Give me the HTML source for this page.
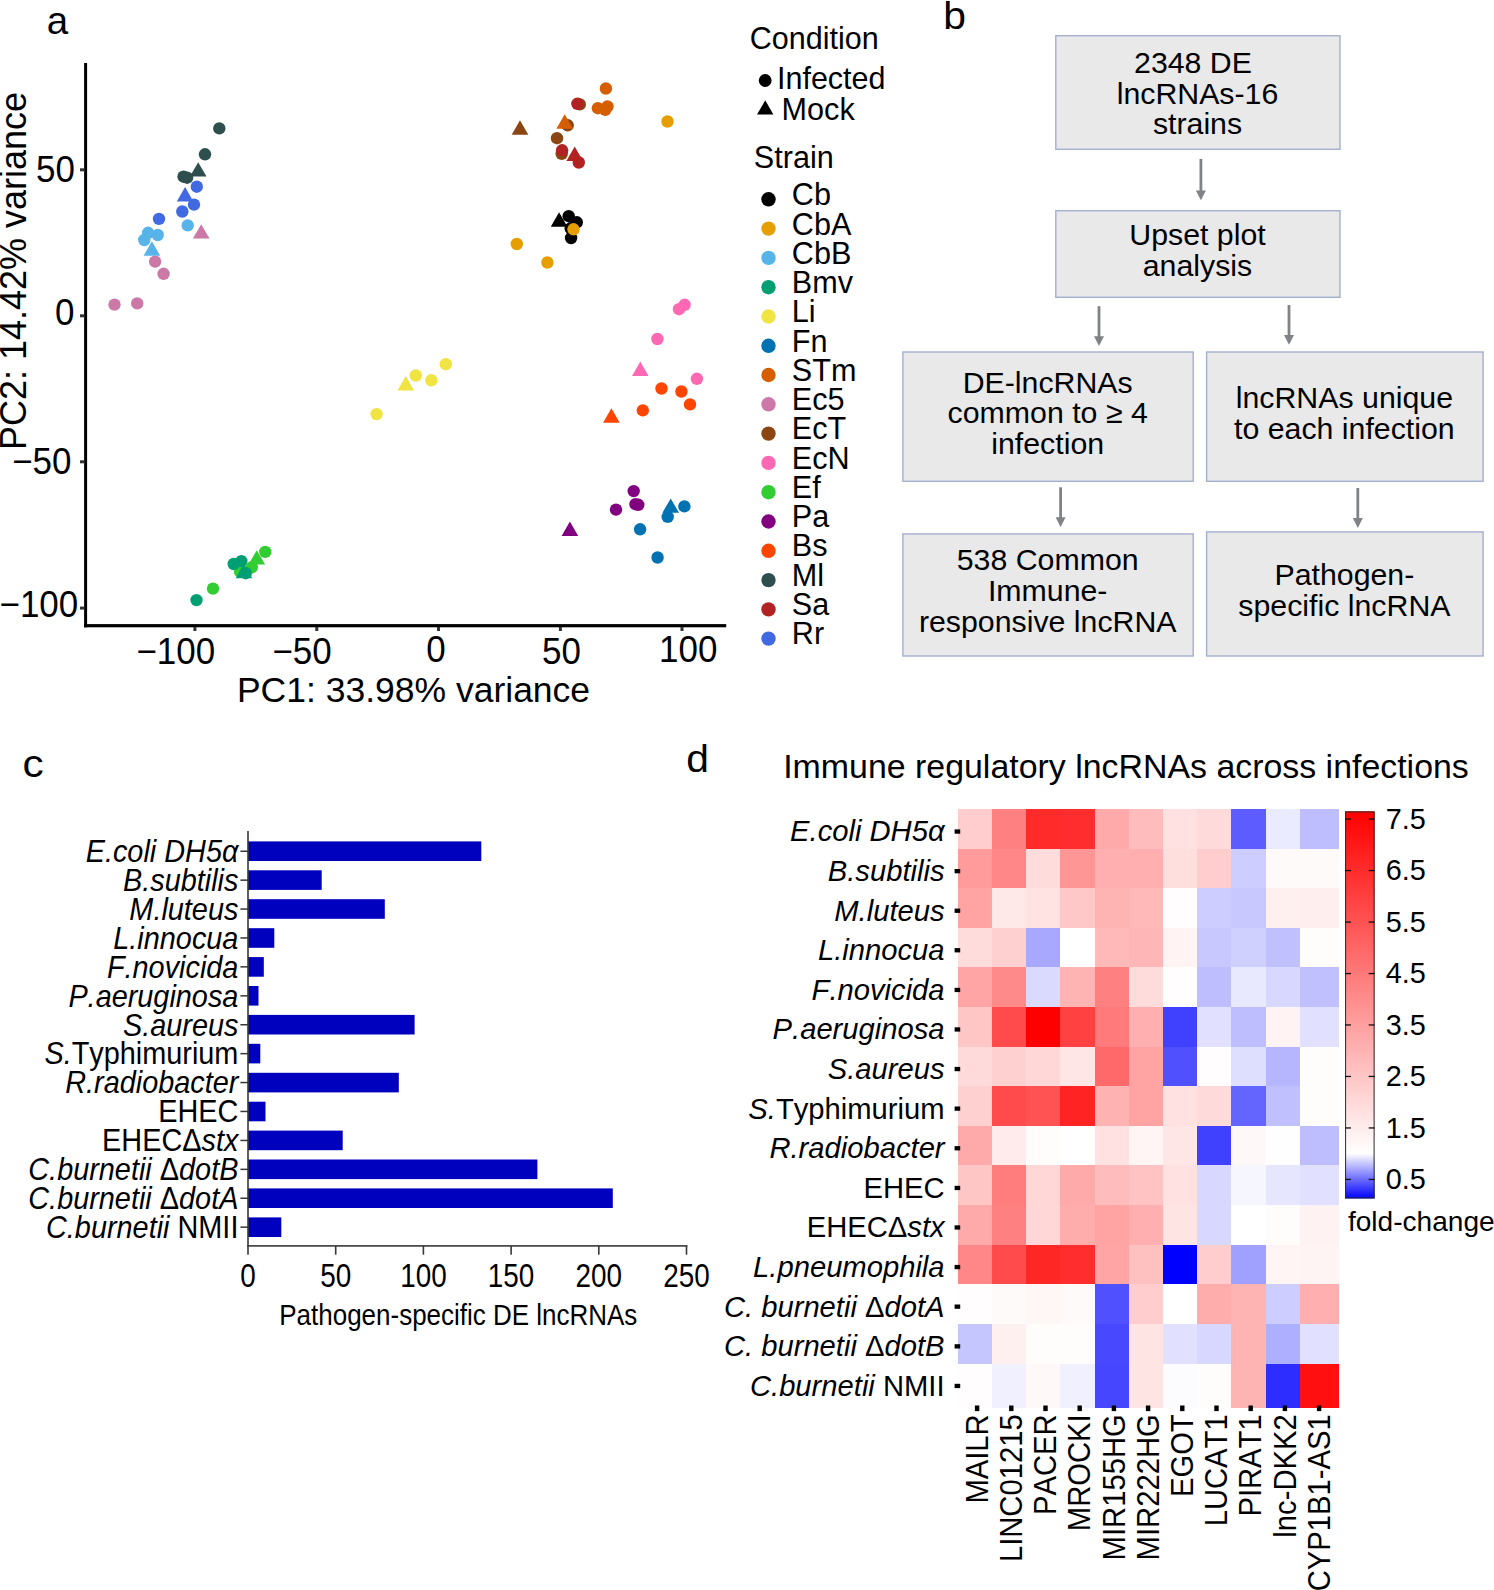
<!DOCTYPE html>
<html lang="en">
<head>
<meta charset="utf-8">
<title>Figure: lncRNA responses across bacterial infections</title>
<style>
html,body{margin:0;padding:0;background:#fff;}
body{width:1494px;height:1590px;overflow:hidden;}
svg{display:block;}
svg text{font-family:"Liberation Sans",Arial,Helvetica,sans-serif;fill:#000;font-kerning:none;}
</style>
</head>
<body>
<svg width="1494" height="1590" viewBox="0 0 1494 1590">
<rect width="1494" height="1590" fill="#fff"/>
<g id="panel-a">
<text x="46.8" y="34.3" font-size="38.5">a</text>
<g id="pts">
<circle cx="114.5" cy="304.6" r="6.2" fill="#CC79A7"/>
<circle cx="137.2" cy="303.4" r="6.2" fill="#CC79A7"/>
<circle cx="155.1" cy="261.6" r="6.2" fill="#CC79A7"/>
<circle cx="163.6" cy="273.8" r="6.2" fill="#CC79A7"/>
<path d="M201.2 224.2 L209.5 238.6 L192.9 238.6 Z" fill="#CC79A7"/>
<circle cx="148.1" cy="232.8" r="6.2" fill="#56B4E9"/>
<circle cx="157.7" cy="235.0" r="6.2" fill="#56B4E9"/>
<circle cx="144.3" cy="240.0" r="6.2" fill="#56B4E9"/>
<circle cx="187.7" cy="225.4" r="6.2" fill="#56B4E9"/>
<path d="M151.9 241.3 L160.2 255.7 L143.6 255.7 Z" fill="#56B4E9"/>
<circle cx="219.3" cy="128.4" r="6.2" fill="#2F4F4F"/>
<circle cx="205.0" cy="154.3" r="6.2" fill="#2F4F4F"/>
<circle cx="183.5" cy="176.7" r="6.2" fill="#2F4F4F"/>
<circle cx="187.1" cy="177.7" r="6.2" fill="#2F4F4F"/>
<path d="M198.2 162.2 L206.5 176.6 L189.9 176.6 Z" fill="#2F4F4F"/>
<circle cx="196.8" cy="186.7" r="6.2" fill="#4169E1"/>
<circle cx="194.0" cy="204.6" r="6.2" fill="#4169E1"/>
<circle cx="182.3" cy="211.5" r="6.2" fill="#4169E1"/>
<circle cx="159.0" cy="218.9" r="6.2" fill="#4169E1"/>
<path d="M185.1 187.0 L193.4 201.4 L176.8 201.4 Z" fill="#4169E1"/>
<circle cx="265.3" cy="551.9" r="6.2" fill="#32CD32"/>
<circle cx="251.8" cy="567.3" r="6.2" fill="#32CD32"/>
<circle cx="240.1" cy="571.7" r="6.2" fill="#32CD32"/>
<circle cx="213.0" cy="588.6" r="6.2" fill="#32CD32"/>
<path d="M256.8 550.2 L265.1 564.6 L248.5 564.6 Z" fill="#32CD32"/>
<circle cx="241.4" cy="561.1" r="6.2" fill="#009E73"/>
<circle cx="233.7" cy="564.0" r="6.2" fill="#009E73"/>
<circle cx="245.7" cy="573.2" r="6.2" fill="#009E73"/>
<circle cx="196.5" cy="600.1" r="6.2" fill="#009E73"/>
<path d="M244.0 563.8 L252.3 578.2 L235.7 578.2 Z" fill="#009E73"/>
<circle cx="445.8" cy="364.2" r="6.2" fill="#F0E442"/>
<circle cx="415.8" cy="375.5" r="6.2" fill="#F0E442"/>
<circle cx="431.3" cy="380.3" r="6.2" fill="#F0E442"/>
<circle cx="376.6" cy="414.1" r="6.2" fill="#F0E442"/>
<path d="M405.8 376.1 L414.1 390.5 L397.5 390.5 Z" fill="#F0E442"/>
<circle cx="579.8" cy="104.4" r="6.2" fill="#8B4513"/>
<circle cx="567.7" cy="125.3" r="6.2" fill="#8B4513"/>
<circle cx="557.0" cy="138.2" r="6.2" fill="#8B4513"/>
<circle cx="561.7" cy="153.9" r="6.2" fill="#8B4513"/>
<path d="M520.0 120.3 L528.3 134.7 L511.7 134.7 Z" fill="#8B4513"/>
<circle cx="605.9" cy="88.5" r="6.2" fill="#D55E00"/>
<circle cx="597.9" cy="108.2" r="6.2" fill="#D55E00"/>
<circle cx="607.5" cy="106.4" r="6.2" fill="#D55E00"/>
<circle cx="605.3" cy="109.8" r="6.2" fill="#D55E00"/>
<path d="M564.7 114.3 L573.0 128.7 L556.4 128.7 Z" fill="#D55E00"/>
<circle cx="577.4" cy="103.8" r="6.2" fill="#B22222"/>
<circle cx="562.1" cy="150.3" r="6.2" fill="#B22222"/>
<circle cx="578.8" cy="162.5" r="6.2" fill="#B22222"/>
<path d="M574.7 146.5 L583.0 160.9 L566.4 160.9 Z" fill="#B22222"/>
<circle cx="568.7" cy="216.2" r="6.2" fill="#000000"/>
<circle cx="576.8" cy="222.3" r="6.2" fill="#000000"/>
<circle cx="571.1" cy="238.0" r="6.2" fill="#000000"/>
<circle cx="570.7" cy="228.3" r="6.2" fill="#000000"/>
<path d="M559.1 212.3 L567.4 226.7 L550.8 226.7 Z" fill="#000000"/>
<circle cx="573.5" cy="229.3" r="6.2" fill="#E69F00"/>
<circle cx="516.8" cy="244.0" r="6.2" fill="#E69F00"/>
<circle cx="547.4" cy="262.5" r="6.2" fill="#E69F00"/>
<circle cx="667.5" cy="121.5" r="6.2" fill="#E69F00"/>
<circle cx="684.6" cy="304.8" r="6.2" fill="#FF69B4"/>
<circle cx="679.0" cy="309.2" r="6.2" fill="#FF69B4"/>
<circle cx="657.4" cy="339.0" r="6.2" fill="#FF69B4"/>
<circle cx="696.9" cy="378.8" r="6.2" fill="#FF69B4"/>
<path d="M640.3 361.6 L648.6 376.0 L632.0 376.0 Z" fill="#FF69B4"/>
<circle cx="661.5" cy="388.5" r="6.2" fill="#FF4500"/>
<circle cx="681.4" cy="391.5" r="6.2" fill="#FF4500"/>
<circle cx="690.0" cy="404.4" r="6.2" fill="#FF4500"/>
<circle cx="642.8" cy="410.4" r="6.2" fill="#FF4500"/>
<path d="M611.4 408.3 L619.7 422.7 L603.1 422.7 Z" fill="#FF4500"/>
<circle cx="633.7" cy="491.1" r="6.2" fill="#800080"/>
<circle cx="635.5" cy="504.2" r="6.2" fill="#800080"/>
<circle cx="638.3" cy="504.8" r="6.2" fill="#800080"/>
<circle cx="616.0" cy="509.6" r="6.2" fill="#800080"/>
<path d="M569.9 521.5 L578.2 535.9 L561.6 535.9 Z" fill="#800080"/>
<circle cx="684.4" cy="506.4" r="6.2" fill="#0072B2"/>
<circle cx="667.7" cy="516.9" r="6.2" fill="#0072B2"/>
<circle cx="640.1" cy="529.3" r="6.2" fill="#0072B2"/>
<circle cx="657.6" cy="557.5" r="6.2" fill="#0072B2"/>
<path d="M670.7 498.4 L679.0 512.8 L662.4 512.8 Z" fill="#0072B2"/>
</g>
<rect x="84.1" y="63" width="3" height="564.3" fill="#000"/>
<rect x="84.1" y="624.1" width="642.1" height="3.2" fill="#000"/>
<rect x="80.0" y="168.3" width="4.5" height="3.0" fill="#333"/>
<text transform="translate(36.0 182.4) scale(0.945 1)" font-size="37.0">50</text>
<rect x="80.0" y="314.3" width="4.5" height="3.0" fill="#333"/>
<text transform="translate(55.1 325.4) scale(0.945 1)" font-size="37.0">0</text>
<rect x="80.0" y="460.3" width="4.5" height="3.0" fill="#333"/>
<text transform="translate(12.2 474.4) scale(0.945 1)" font-size="37.0">−50</text>
<rect x="80.0" y="606.6" width="4.5" height="3.0" fill="#333"/>
<text transform="translate(-0.5 617.4) scale(0.945 1)" font-size="37.0">−100</text>
<rect x="193.4" y="627" width="3.0" height="4.0" fill="#333"/>
<text transform="translate(136.4 664.4) scale(0.945 1)" font-size="37.0">−100</text>
<rect x="315.3" y="627" width="3.0" height="4.0" fill="#333"/>
<text transform="translate(272.4 664.4) scale(0.945 1)" font-size="37.0">−50</text>
<rect x="437.0" y="627" width="3.0" height="4.0" fill="#333"/>
<text transform="translate(426.2 662.4) scale(0.945 1)" font-size="37.0">0</text>
<rect x="558.9" y="627" width="3.0" height="4.0" fill="#333"/>
<text transform="translate(542.0 664.4) scale(0.945 1)" font-size="37.0">50</text>
<rect x="680.5" y="627" width="3.0" height="4.0" fill="#333"/>
<text transform="translate(659.0 662.4) scale(0.945 1)" font-size="37.0">100</text>
<text x="413.5" y="702" font-size="35.5" text-anchor="middle">PC1: 33.98% variance</text>
<text transform="translate(26.0 271.0) rotate(-90)" font-size="36" text-anchor="middle">PC2: 14.42% variance</text>
<text x="749.8" y="49.0" font-size="30.5">Condition</text>
<circle cx="765.2" cy="80.5" r="6.4" fill="#000"/>
<text x="777.0" y="89.3" font-size="30.5">Infected</text>
<path d="M765.2 100.3 L773.4 114.6 L757.0 114.6 Z" fill="#000"/>
<text x="781.6" y="119.5" font-size="30.6">Mock</text>
<text x="753.8" y="168.0" font-size="30.6">Strain</text>
<circle cx="768.5" cy="199.3" r="7.2" fill="#000000"/>
<text x="791.8" y="205.3" font-size="30.6">Cb</text>
<circle cx="768.5" cy="228.6" r="7.2" fill="#E69F00"/>
<text x="791.8" y="234.6" font-size="30.6">CbA</text>
<circle cx="768.5" cy="257.9" r="7.2" fill="#56B4E9"/>
<text x="791.8" y="263.8" font-size="30.6">CbB</text>
<circle cx="768.5" cy="287.2" r="7.2" fill="#009E73"/>
<text x="791.8" y="293.1" font-size="30.6">Bmv</text>
<circle cx="768.5" cy="316.5" r="7.2" fill="#F0E442"/>
<text x="791.8" y="322.3" font-size="30.6">Li</text>
<circle cx="768.5" cy="345.8" r="7.2" fill="#0072B2"/>
<text x="791.8" y="351.6" font-size="30.6">Fn</text>
<circle cx="768.5" cy="375.0" r="7.2" fill="#D55E00"/>
<text x="791.8" y="380.8" font-size="30.6">STm</text>
<circle cx="768.5" cy="404.3" r="7.2" fill="#CC79A7"/>
<text x="791.8" y="410.1" font-size="30.6">Ec5</text>
<circle cx="768.5" cy="433.6" r="7.2" fill="#8B4513"/>
<text x="791.8" y="439.3" font-size="30.6">EcT</text>
<circle cx="768.5" cy="462.9" r="7.2" fill="#FF69B4"/>
<text x="791.8" y="468.6" font-size="30.6">EcN</text>
<circle cx="768.5" cy="492.2" r="7.2" fill="#32CD32"/>
<text x="791.8" y="497.8" font-size="30.6">Ef</text>
<circle cx="768.5" cy="521.5" r="7.2" fill="#800080"/>
<text x="791.8" y="527.0" font-size="30.6">Pa</text>
<circle cx="768.5" cy="550.8" r="7.2" fill="#FF4500"/>
<text x="791.8" y="556.3" font-size="30.6">Bs</text>
<circle cx="768.5" cy="580.1" r="7.2" fill="#2F4F4F"/>
<text x="791.8" y="585.5" font-size="30.6">Ml</text>
<circle cx="768.5" cy="609.4" r="7.2" fill="#B22222"/>
<text x="791.8" y="614.8" font-size="30.6">Sa</text>
<circle cx="768.5" cy="638.6" r="7.2" fill="#4169E1"/>
<text x="791.8" y="644.0" font-size="30.6">Rr</text>
</g>
<g id="panel-b">
<text transform="translate(943.3 28.6) scale(1.06 1)" font-size="38.5">b</text>
<rect x="1055.8" y="35.7" width="284.2" height="113.6" fill="#E9E9E9" stroke="#A3AFCC" stroke-width="1.4"/>
<text x="1193.0" y="72.8" font-size="30.3" text-anchor="middle">2348 DE</text>
<text x="1197.5" y="104.0" font-size="30.3" text-anchor="middle">lncRNAs-16</text>
<text x="1197.5" y="134.4" font-size="30.3" text-anchor="middle">strains</text>
<path d="M1200.9 158.9 V192.7" stroke="#808285" stroke-width="2.8" fill="none"/>
<path d="M1200.9 200.3 L1195.9 190.5 L1205.9 190.5 Z" fill="#808285"/>
<rect x="1055.8" y="210.7" width="284.2" height="86.6" fill="#E9E9E9" stroke="#A3AFCC" stroke-width="1.4"/>
<text x="1197.5" y="244.6" font-size="30.3" text-anchor="middle">Upset plot</text>
<text x="1197.5" y="275.7" font-size="30.3" text-anchor="middle">analysis</text>
<path d="M1099.0 306.2 V338.4" stroke="#808285" stroke-width="2.8" fill="none"/>
<path d="M1099.0 346.0 L1094.0 336.2 L1104.0 336.2 Z" fill="#808285"/>
<path d="M1289.0 305.0 V337.2" stroke="#808285" stroke-width="2.8" fill="none"/>
<path d="M1289.0 344.8 L1284.0 335.0 L1294.0 335.0 Z" fill="#808285"/>
<rect x="902.9" y="352.0" width="290.3" height="129.3" fill="#E9E9E9" stroke="#A3AFCC" stroke-width="1.4"/>
<text x="1047.7" y="392.7" font-size="30.3" text-anchor="middle">DE-lncRNAs</text>
<text x="1047.7" y="423.4" font-size="30.3" text-anchor="middle">common to ≥ 4</text>
<text x="1047.7" y="454.1" font-size="30.3" text-anchor="middle">infection</text>
<rect x="1206.6" y="352.0" width="276.5" height="129.3" fill="#E9E9E9" stroke="#A3AFCC" stroke-width="1.4"/>
<text x="1344.4" y="408.0" font-size="30.3" text-anchor="middle">lncRNAs unique</text>
<text x="1344.4" y="438.8" font-size="30.3" text-anchor="middle">to each infection</text>
<path d="M1060.6 487.3 V519.5" stroke="#808285" stroke-width="2.8" fill="none"/>
<path d="M1060.6 527.1 L1055.6 517.3 L1065.6 517.3 Z" fill="#808285"/>
<path d="M1357.8 488.0 V520.3" stroke="#808285" stroke-width="2.8" fill="none"/>
<path d="M1357.8 527.9 L1352.8 518.1 L1362.8 518.1 Z" fill="#808285"/>
<rect x="902.9" y="533.9" width="290.3" height="122.1" fill="#E9E9E9" stroke="#A3AFCC" stroke-width="1.4"/>
<text x="1047.7" y="570.2" font-size="30.3" text-anchor="middle">538 Common</text>
<text x="1047.7" y="601.3" font-size="30.3" text-anchor="middle">Immune-</text>
<text x="1047.7" y="632.0" font-size="30.3" text-anchor="middle">responsive lncRNA</text>
<rect x="1206.6" y="531.9" width="276.5" height="124.1" fill="#E9E9E9" stroke="#A3AFCC" stroke-width="1.4"/>
<text x="1344.4" y="585.1" font-size="30.3" text-anchor="middle">Pathogen-</text>
<text x="1344.4" y="615.9" font-size="30.3" text-anchor="middle">specific lncRNA</text>
</g>
<g id="panel-c">
<text transform="translate(22.4 777.1) scale(1.07 1)" font-size="39.5">c</text>
<rect x="248.0" y="841.4" width="233.3" height="19.6" fill="#0000BF"/>
<rect x="240.4" y="850.5" width="7.6" height="1.5" fill="#383838"/>
<text transform="translate(238.4 862.0) scale(0.931 1)" font-size="31" text-anchor="end"><tspan font-style="italic">E.coli DH5α</tspan></text>
<rect x="248.0" y="870.3" width="73.7" height="19.6" fill="#0000BF"/>
<rect x="240.4" y="879.4" width="7.6" height="1.5" fill="#383838"/>
<text transform="translate(238.4 890.9) scale(0.931 1)" font-size="31" text-anchor="end"><tspan font-style="italic">B.subtilis</tspan></text>
<rect x="248.0" y="899.2" width="136.8" height="19.6" fill="#0000BF"/>
<rect x="240.4" y="908.3" width="7.6" height="1.5" fill="#383838"/>
<text transform="translate(238.4 919.8) scale(0.931 1)" font-size="31" text-anchor="end"><tspan font-style="italic">M.luteus</tspan></text>
<rect x="248.0" y="928.2" width="26.3" height="19.6" fill="#0000BF"/>
<rect x="240.4" y="937.2" width="7.6" height="1.5" fill="#383838"/>
<text transform="translate(238.4 948.8) scale(0.931 1)" font-size="31" text-anchor="end"><tspan font-style="italic">L.innocua</tspan></text>
<rect x="248.0" y="957.1" width="15.8" height="19.6" fill="#0000BF"/>
<rect x="240.4" y="966.1" width="7.6" height="1.5" fill="#383838"/>
<text transform="translate(238.4 977.7) scale(0.931 1)" font-size="31" text-anchor="end"><tspan font-style="italic">F.novicida</tspan></text>
<rect x="248.0" y="986.0" width="10.5" height="19.6" fill="#0000BF"/>
<rect x="240.4" y="995.1" width="7.6" height="1.5" fill="#383838"/>
<text transform="translate(238.4 1006.6) scale(0.931 1)" font-size="31" text-anchor="end"><tspan font-style="italic">P.aeruginosa</tspan></text>
<rect x="248.0" y="1014.9" width="166.6" height="19.6" fill="#0000BF"/>
<rect x="240.4" y="1024.0" width="7.6" height="1.5" fill="#383838"/>
<text transform="translate(238.4 1035.5) scale(0.931 1)" font-size="31" text-anchor="end"><tspan font-style="italic">S.aureus</tspan></text>
<rect x="248.0" y="1043.8" width="12.3" height="19.6" fill="#0000BF"/>
<rect x="240.4" y="1052.9" width="7.6" height="1.5" fill="#383838"/>
<text transform="translate(238.4 1064.4) scale(0.931 1)" font-size="31" text-anchor="end"><tspan font-style="italic">S.</tspan>Typhimurium</text>
<rect x="248.0" y="1072.8" width="150.8" height="19.6" fill="#0000BF"/>
<rect x="240.4" y="1081.8" width="7.6" height="1.5" fill="#383838"/>
<text transform="translate(238.4 1093.4) scale(0.931 1)" font-size="31" text-anchor="end"><tspan font-style="italic">R.radiobacter</tspan></text>
<rect x="248.0" y="1101.7" width="17.5" height="19.6" fill="#0000BF"/>
<rect x="240.4" y="1110.7" width="7.6" height="1.5" fill="#383838"/>
<text transform="translate(238.4 1122.3) scale(0.931 1)" font-size="31" text-anchor="end">EHEC</text>
<rect x="248.0" y="1130.6" width="94.7" height="19.6" fill="#0000BF"/>
<rect x="240.4" y="1139.7" width="7.6" height="1.5" fill="#383838"/>
<text transform="translate(238.4 1151.2) scale(0.931 1)" font-size="31" text-anchor="end">EHECΔ<tspan font-style="italic">stx</tspan></text>
<rect x="248.0" y="1159.5" width="289.4" height="19.6" fill="#0000BF"/>
<rect x="240.4" y="1168.6" width="7.6" height="1.5" fill="#383838"/>
<text transform="translate(238.4 1180.1) scale(0.931 1)" font-size="31" text-anchor="end"><tspan font-style="italic">C.burnetii </tspan>Δ<tspan font-style="italic">dotB</tspan></text>
<rect x="248.0" y="1188.4" width="364.8" height="19.6" fill="#0000BF"/>
<rect x="240.4" y="1197.5" width="7.6" height="1.5" fill="#383838"/>
<text transform="translate(238.4 1209.0) scale(0.931 1)" font-size="31" text-anchor="end"><tspan font-style="italic">C.burnetii </tspan>Δ<tspan font-style="italic">dotA</tspan></text>
<rect x="248.0" y="1217.4" width="33.3" height="19.6" fill="#0000BF"/>
<rect x="240.4" y="1226.4" width="7.6" height="1.5" fill="#383838"/>
<text transform="translate(238.4 1238.0) scale(0.931 1)" font-size="31" text-anchor="end"><tspan font-style="italic">C.burnetii</tspan> NMII</text>
<rect x="247.2" y="831" width="1.6" height="415.7" fill="#383838"/>
<rect x="247.2" y="1245.1" width="440.3" height="1.6" fill="#383838"/>
<rect x="247.2" y="1246" width="1.6" height="8.7" fill="#383838"/>
<text transform="translate(248.0 1286.5) scale(0.82 1)" font-size="34" text-anchor="middle">0</text>
<rect x="334.9" y="1246" width="1.6" height="8.7" fill="#383838"/>
<text transform="translate(335.7 1286.5) scale(0.82 1)" font-size="34" text-anchor="middle">50</text>
<rect x="422.6" y="1246" width="1.6" height="8.7" fill="#383838"/>
<text transform="translate(423.4 1286.5) scale(0.82 1)" font-size="34" text-anchor="middle">100</text>
<rect x="510.3" y="1246" width="1.6" height="8.7" fill="#383838"/>
<text transform="translate(511.1 1286.5) scale(0.82 1)" font-size="34" text-anchor="middle">150</text>
<rect x="598.0" y="1246" width="1.6" height="8.7" fill="#383838"/>
<text transform="translate(598.8 1286.5) scale(0.82 1)" font-size="34" text-anchor="middle">200</text>
<rect x="685.7" y="1246" width="1.6" height="8.7" fill="#383838"/>
<text transform="translate(686.5 1286.5) scale(0.82 1)" font-size="34" text-anchor="middle">250</text>
<text transform="translate(458.3 1324.8) scale(0.89 1)" font-size="29.2" text-anchor="middle">Pathogen-specific DE lncRNAs</text>
</g>
<g id="panel-d">
<text transform="translate(686.3 772.3) scale(1.06 1)" font-size="38.5">d</text>
<text x="783.2" y="777.8" font-size="33.9">Immune regulatory lncRNAs across infections</text>
<g shape-rendering="crispEdges">
<rect x="957.80" y="808.90" width="34.70" height="40.12" fill="#FFCDCD"/>
<rect x="992.00" y="808.90" width="34.70" height="40.12" fill="#FF8080"/>
<rect x="1026.20" y="808.90" width="34.70" height="40.12" fill="#FF2A2A"/>
<rect x="1060.40" y="808.90" width="34.70" height="40.12" fill="#FF2D2D"/>
<rect x="1094.60" y="808.90" width="34.70" height="40.12" fill="#FFAAAA"/>
<rect x="1128.80" y="808.90" width="34.70" height="40.12" fill="#FFBCBC"/>
<rect x="1163.00" y="808.90" width="34.70" height="40.12" fill="#FFE1E1"/>
<rect x="1197.20" y="808.90" width="34.70" height="40.12" fill="#FFDADA"/>
<rect x="1231.40" y="808.90" width="34.70" height="40.12" fill="#5C5CFF"/>
<rect x="1265.60" y="808.90" width="34.70" height="40.12" fill="#EBEBFF"/>
<rect x="1299.80" y="808.90" width="39.50" height="40.12" fill="#BEBEFF"/>
<rect x="957.80" y="848.52" width="34.70" height="40.12" fill="#FF9B9B"/>
<rect x="992.00" y="848.52" width="34.70" height="40.12" fill="#FF8787"/>
<rect x="1026.20" y="848.52" width="34.70" height="40.12" fill="#FFDCDC"/>
<rect x="1060.40" y="848.52" width="34.70" height="40.12" fill="#FF9696"/>
<rect x="1094.60" y="848.52" width="34.70" height="40.12" fill="#FFAFAF"/>
<rect x="1128.80" y="848.52" width="34.70" height="40.12" fill="#FFAFAF"/>
<rect x="1163.00" y="848.52" width="34.70" height="40.12" fill="#FFDEDE"/>
<rect x="1197.20" y="848.52" width="34.70" height="40.12" fill="#FFCDCD"/>
<rect x="1231.40" y="848.52" width="34.70" height="40.12" fill="#CDCDFF"/>
<rect x="1265.60" y="848.52" width="34.70" height="40.12" fill="#FFFAFA"/>
<rect x="1299.80" y="848.52" width="39.50" height="40.12" fill="#FFFAFA"/>
<rect x="957.80" y="888.14" width="34.70" height="40.12" fill="#FFA3A3"/>
<rect x="992.00" y="888.14" width="34.70" height="40.12" fill="#FFE8E8"/>
<rect x="1026.20" y="888.14" width="34.70" height="40.12" fill="#FFE2E2"/>
<rect x="1060.40" y="888.14" width="34.70" height="40.12" fill="#FFC8C8"/>
<rect x="1094.60" y="888.14" width="34.70" height="40.12" fill="#FFB4B4"/>
<rect x="1128.80" y="888.14" width="34.70" height="40.12" fill="#FFB9B9"/>
<rect x="1163.00" y="888.14" width="34.70" height="40.12" fill="#FFFDFD"/>
<rect x="1197.20" y="888.14" width="34.70" height="40.12" fill="#CDCDFF"/>
<rect x="1231.40" y="888.14" width="34.70" height="40.12" fill="#C8C8FF"/>
<rect x="1265.60" y="888.14" width="34.70" height="40.12" fill="#FFF0F0"/>
<rect x="1299.80" y="888.14" width="39.50" height="40.12" fill="#FFEEEE"/>
<rect x="957.80" y="927.76" width="34.70" height="40.12" fill="#FFDCDC"/>
<rect x="992.00" y="927.76" width="34.70" height="40.12" fill="#FFD0D0"/>
<rect x="1026.20" y="927.76" width="34.70" height="40.12" fill="#A8A8FF"/>
<rect x="1060.40" y="927.76" width="34.70" height="40.12" fill="#FFFFFF"/>
<rect x="1094.60" y="927.76" width="34.70" height="40.12" fill="#FFB9B9"/>
<rect x="1128.80" y="927.76" width="34.70" height="40.12" fill="#FFB6B6"/>
<rect x="1163.00" y="927.76" width="34.70" height="40.12" fill="#FFF3F3"/>
<rect x="1197.20" y="927.76" width="34.70" height="40.12" fill="#C8C8FF"/>
<rect x="1231.40" y="927.76" width="34.70" height="40.12" fill="#D0D0FF"/>
<rect x="1265.60" y="927.76" width="34.70" height="40.12" fill="#C0C0FF"/>
<rect x="1299.80" y="927.76" width="39.50" height="40.12" fill="#FFFCFC"/>
<rect x="957.80" y="967.38" width="34.70" height="40.12" fill="#FFA5A5"/>
<rect x="992.00" y="967.38" width="34.70" height="40.12" fill="#FF8A8A"/>
<rect x="1026.20" y="967.38" width="34.70" height="40.12" fill="#DADAFF"/>
<rect x="1060.40" y="967.38" width="34.70" height="40.12" fill="#FFB4B4"/>
<rect x="1094.60" y="967.38" width="34.70" height="40.12" fill="#FF8080"/>
<rect x="1128.80" y="967.38" width="34.70" height="40.12" fill="#FFDCDC"/>
<rect x="1163.00" y="967.38" width="34.70" height="40.12" fill="#FFFDFD"/>
<rect x="1197.20" y="967.38" width="34.70" height="40.12" fill="#BEBEFF"/>
<rect x="1231.40" y="967.38" width="34.70" height="40.12" fill="#E8E8FF"/>
<rect x="1265.60" y="967.38" width="34.70" height="40.12" fill="#D7D7FF"/>
<rect x="1299.80" y="967.38" width="39.50" height="40.12" fill="#C0C0FF"/>
<rect x="957.80" y="1007.00" width="34.70" height="40.12" fill="#FFC6C6"/>
<rect x="992.00" y="1007.00" width="34.70" height="40.12" fill="#FF4B4B"/>
<rect x="1026.20" y="1007.00" width="34.70" height="40.12" fill="#FF0000"/>
<rect x="1060.40" y="1007.00" width="34.70" height="40.12" fill="#FF4141"/>
<rect x="1094.60" y="1007.00" width="34.70" height="40.12" fill="#FF7A7A"/>
<rect x="1128.80" y="1007.00" width="34.70" height="40.12" fill="#FFAFAF"/>
<rect x="1163.00" y="1007.00" width="34.70" height="40.12" fill="#4040FF"/>
<rect x="1197.20" y="1007.00" width="34.70" height="40.12" fill="#E1E1FF"/>
<rect x="1231.40" y="1007.00" width="34.70" height="40.12" fill="#BEBEFF"/>
<rect x="1265.60" y="1007.00" width="34.70" height="40.12" fill="#FFF3F3"/>
<rect x="1299.80" y="1007.00" width="39.50" height="40.12" fill="#E1E1FF"/>
<rect x="957.80" y="1046.62" width="34.70" height="40.12" fill="#FFDADA"/>
<rect x="992.00" y="1046.62" width="34.70" height="40.12" fill="#FFD0D0"/>
<rect x="1026.20" y="1046.62" width="34.70" height="40.12" fill="#FFD7D7"/>
<rect x="1060.40" y="1046.62" width="34.70" height="40.12" fill="#FFE6E6"/>
<rect x="1094.60" y="1046.62" width="34.70" height="40.12" fill="#FF6969"/>
<rect x="1128.80" y="1046.62" width="34.70" height="40.12" fill="#FFA3A3"/>
<rect x="1163.00" y="1046.62" width="34.70" height="40.12" fill="#5050FF"/>
<rect x="1197.20" y="1046.62" width="34.70" height="40.12" fill="#FFFDFD"/>
<rect x="1231.40" y="1046.62" width="34.70" height="40.12" fill="#DEDEFF"/>
<rect x="1265.60" y="1046.62" width="34.70" height="40.12" fill="#B6B6FF"/>
<rect x="1299.80" y="1046.62" width="39.50" height="40.12" fill="#FFFCFC"/>
<rect x="957.80" y="1086.24" width="34.70" height="40.12" fill="#FFD0D0"/>
<rect x="992.00" y="1086.24" width="34.70" height="40.12" fill="#FF4B4B"/>
<rect x="1026.20" y="1086.24" width="34.70" height="40.12" fill="#FF5252"/>
<rect x="1060.40" y="1086.24" width="34.70" height="40.12" fill="#FF2323"/>
<rect x="1094.60" y="1086.24" width="34.70" height="40.12" fill="#FFB2B2"/>
<rect x="1128.80" y="1086.24" width="34.70" height="40.12" fill="#FFA3A3"/>
<rect x="1163.00" y="1086.24" width="34.70" height="40.12" fill="#FFE1E1"/>
<rect x="1197.20" y="1086.24" width="34.70" height="40.12" fill="#FFDADA"/>
<rect x="1231.40" y="1086.24" width="34.70" height="40.12" fill="#6464FF"/>
<rect x="1265.60" y="1086.24" width="34.70" height="40.12" fill="#C0C0FF"/>
<rect x="1299.80" y="1086.24" width="39.50" height="40.12" fill="#FFFCFC"/>
<rect x="957.80" y="1125.86" width="34.70" height="40.12" fill="#FFAAAA"/>
<rect x="992.00" y="1125.86" width="34.70" height="40.12" fill="#FFEBEB"/>
<rect x="1026.20" y="1125.86" width="34.70" height="40.12" fill="#FFFCFC"/>
<rect x="1060.40" y="1125.86" width="34.70" height="40.12" fill="#FFFFFF"/>
<rect x="1094.60" y="1125.86" width="34.70" height="40.12" fill="#FFE1E1"/>
<rect x="1128.80" y="1125.86" width="34.70" height="40.12" fill="#FFF5F5"/>
<rect x="1163.00" y="1125.86" width="34.70" height="40.12" fill="#FFE6E6"/>
<rect x="1197.20" y="1125.86" width="34.70" height="40.12" fill="#4040FF"/>
<rect x="1231.40" y="1125.86" width="34.70" height="40.12" fill="#FFF8F8"/>
<rect x="1265.60" y="1125.86" width="34.70" height="40.12" fill="#FFFEFE"/>
<rect x="1299.80" y="1125.86" width="39.50" height="40.12" fill="#BEBEFF"/>
<rect x="957.80" y="1165.48" width="34.70" height="40.12" fill="#FFC6C6"/>
<rect x="992.00" y="1165.48" width="34.70" height="40.12" fill="#FF7D7D"/>
<rect x="1026.20" y="1165.48" width="34.70" height="40.12" fill="#FFD7D7"/>
<rect x="1060.40" y="1165.48" width="34.70" height="40.12" fill="#FFAAAA"/>
<rect x="1094.60" y="1165.48" width="34.70" height="40.12" fill="#FFBCBC"/>
<rect x="1128.80" y="1165.48" width="34.70" height="40.12" fill="#FFC3C3"/>
<rect x="1163.00" y="1165.48" width="34.70" height="40.12" fill="#FFE1E1"/>
<rect x="1197.20" y="1165.48" width="34.70" height="40.12" fill="#D7D7FF"/>
<rect x="1231.40" y="1165.48" width="34.70" height="40.12" fill="#F6F6FF"/>
<rect x="1265.60" y="1165.48" width="34.70" height="40.12" fill="#E6E6FF"/>
<rect x="1299.80" y="1165.48" width="39.50" height="40.12" fill="#E1E1FF"/>
<rect x="957.80" y="1205.10" width="34.70" height="40.12" fill="#FFAAAA"/>
<rect x="992.00" y="1205.10" width="34.70" height="40.12" fill="#FF8080"/>
<rect x="1026.20" y="1205.10" width="34.70" height="40.12" fill="#FFD7D7"/>
<rect x="1060.40" y="1205.10" width="34.70" height="40.12" fill="#FFACAC"/>
<rect x="1094.60" y="1205.10" width="34.70" height="40.12" fill="#FFA3A3"/>
<rect x="1128.80" y="1205.10" width="34.70" height="40.12" fill="#FFAFAF"/>
<rect x="1163.00" y="1205.10" width="34.70" height="40.12" fill="#FFE4E4"/>
<rect x="1197.20" y="1205.10" width="34.70" height="40.12" fill="#D7D7FF"/>
<rect x="1231.40" y="1205.10" width="34.70" height="40.12" fill="#FFFFFF"/>
<rect x="1265.60" y="1205.10" width="34.70" height="40.12" fill="#FFFCFC"/>
<rect x="1299.80" y="1205.10" width="39.50" height="40.12" fill="#FFF2F2"/>
<rect x="957.80" y="1244.72" width="34.70" height="40.12" fill="#FF8787"/>
<rect x="992.00" y="1244.72" width="34.70" height="40.12" fill="#FF4B4B"/>
<rect x="1026.20" y="1244.72" width="34.70" height="40.12" fill="#FF2626"/>
<rect x="1060.40" y="1244.72" width="34.70" height="40.12" fill="#FF2D2D"/>
<rect x="1094.60" y="1244.72" width="34.70" height="40.12" fill="#FFA5A5"/>
<rect x="1128.80" y="1244.72" width="34.70" height="40.12" fill="#FFC0C0"/>
<rect x="1163.00" y="1244.72" width="34.70" height="40.12" fill="#0000FF"/>
<rect x="1197.20" y="1244.72" width="34.70" height="40.12" fill="#FFCDCD"/>
<rect x="1231.40" y="1244.72" width="34.70" height="40.12" fill="#A0A0FF"/>
<rect x="1265.60" y="1244.72" width="34.70" height="40.12" fill="#FFF5F5"/>
<rect x="1299.80" y="1244.72" width="39.50" height="40.12" fill="#FFF4F4"/>
<rect x="957.80" y="1284.34" width="34.70" height="40.12" fill="#FFFDFD"/>
<rect x="992.00" y="1284.34" width="34.70" height="40.12" fill="#FFFAFA"/>
<rect x="1026.20" y="1284.34" width="34.70" height="40.12" fill="#FFF6F6"/>
<rect x="1060.40" y="1284.34" width="34.70" height="40.12" fill="#FFFAFA"/>
<rect x="1094.60" y="1284.34" width="34.70" height="40.12" fill="#5050FF"/>
<rect x="1128.80" y="1284.34" width="34.70" height="40.12" fill="#FFCDCD"/>
<rect x="1163.00" y="1284.34" width="34.70" height="40.12" fill="#FFFFFF"/>
<rect x="1197.20" y="1284.34" width="34.70" height="40.12" fill="#FFACAC"/>
<rect x="1231.40" y="1284.34" width="34.70" height="40.12" fill="#FFB4B4"/>
<rect x="1265.60" y="1284.34" width="34.70" height="40.12" fill="#CDCDFF"/>
<rect x="1299.80" y="1284.34" width="39.50" height="40.12" fill="#FFAFAF"/>
<rect x="957.80" y="1323.96" width="34.70" height="40.12" fill="#C6C6FF"/>
<rect x="992.00" y="1323.96" width="34.70" height="40.12" fill="#FFF0F0"/>
<rect x="1026.20" y="1323.96" width="34.70" height="40.12" fill="#FFFCFC"/>
<rect x="1060.40" y="1323.96" width="34.70" height="40.12" fill="#FFFCFC"/>
<rect x="1094.60" y="1323.96" width="34.70" height="40.12" fill="#4848FF"/>
<rect x="1128.80" y="1323.96" width="34.70" height="40.12" fill="#FFE4E4"/>
<rect x="1163.00" y="1323.96" width="34.70" height="40.12" fill="#E1E1FF"/>
<rect x="1197.20" y="1323.96" width="34.70" height="40.12" fill="#D7D7FF"/>
<rect x="1231.40" y="1323.96" width="34.70" height="40.12" fill="#FFB4B4"/>
<rect x="1265.60" y="1323.96" width="34.70" height="40.12" fill="#AFAFFF"/>
<rect x="1299.80" y="1323.96" width="39.50" height="40.12" fill="#E1E1FF"/>
<rect x="957.80" y="1363.58" width="34.70" height="44.42" fill="#FFFDFD"/>
<rect x="992.00" y="1363.58" width="34.70" height="44.42" fill="#F0F0FF"/>
<rect x="1026.20" y="1363.58" width="34.70" height="44.42" fill="#FFF8F8"/>
<rect x="1060.40" y="1363.58" width="34.70" height="44.42" fill="#F0F0FF"/>
<rect x="1094.60" y="1363.58" width="34.70" height="44.42" fill="#4646FF"/>
<rect x="1128.80" y="1363.58" width="34.70" height="44.42" fill="#FFE4E4"/>
<rect x="1163.00" y="1363.58" width="34.70" height="44.42" fill="#FCFCFF"/>
<rect x="1197.20" y="1363.58" width="34.70" height="44.42" fill="#FFFCFC"/>
<rect x="1231.40" y="1363.58" width="34.70" height="44.42" fill="#FFB4B4"/>
<rect x="1265.60" y="1363.58" width="34.70" height="44.42" fill="#2D2DFF"/>
<rect x="1299.80" y="1363.58" width="39.50" height="44.42" fill="#FF0F0F"/>
</g>
<rect x="954.6" y="829.4" width="5.6" height="4.3" fill="#000"/>
<text x="944.6" y="841.4" font-size="29.2" text-anchor="end"><tspan font-style="italic">E.coli DH5α</tspan></text>
<rect x="954.6" y="869.0" width="5.6" height="4.3" fill="#000"/>
<text x="944.6" y="881.0" font-size="29.2" text-anchor="end"><tspan font-style="italic">B.subtilis</tspan></text>
<rect x="954.6" y="908.6" width="5.6" height="4.3" fill="#000"/>
<text x="944.6" y="920.6" font-size="29.2" text-anchor="end"><tspan font-style="italic">M.luteus</tspan></text>
<rect x="954.6" y="948.1" width="5.6" height="4.3" fill="#000"/>
<text x="944.6" y="960.2" font-size="29.2" text-anchor="end"><tspan font-style="italic">L.innocua</tspan></text>
<rect x="954.6" y="987.8" width="5.6" height="4.3" fill="#000"/>
<text x="944.6" y="999.8" font-size="29.2" text-anchor="end"><tspan font-style="italic">F.novicida</tspan></text>
<rect x="954.6" y="1027.3" width="5.6" height="4.3" fill="#000"/>
<text x="944.6" y="1039.4" font-size="29.2" text-anchor="end"><tspan font-style="italic">P.aeruginosa</tspan></text>
<rect x="954.6" y="1066.9" width="5.6" height="4.3" fill="#000"/>
<text x="944.6" y="1079.0" font-size="29.2" text-anchor="end"><tspan font-style="italic">S.aureus</tspan></text>
<rect x="954.6" y="1106.5" width="5.6" height="4.3" fill="#000"/>
<text x="944.6" y="1118.6" font-size="29.2" text-anchor="end"><tspan font-style="italic">S.</tspan>Typhimurium</text>
<rect x="954.6" y="1146.1" width="5.6" height="4.3" fill="#000"/>
<text x="944.6" y="1158.2" font-size="29.2" text-anchor="end"><tspan font-style="italic">R.radiobacter</tspan></text>
<rect x="954.6" y="1185.8" width="5.6" height="4.3" fill="#000"/>
<text x="944.6" y="1197.8" font-size="29.2" text-anchor="end">EHEC</text>
<rect x="954.6" y="1225.3" width="5.6" height="4.3" fill="#000"/>
<text x="944.6" y="1237.4" font-size="29.2" text-anchor="end">EHECΔ<tspan font-style="italic">stx</tspan></text>
<rect x="954.6" y="1264.9" width="5.6" height="4.3" fill="#000"/>
<text x="944.6" y="1277.0" font-size="29.2" text-anchor="end"><tspan font-style="italic">L.pneumophila</tspan></text>
<rect x="954.6" y="1304.5" width="5.6" height="4.3" fill="#000"/>
<text x="944.6" y="1316.6" font-size="29.2" text-anchor="end"><tspan font-style="italic">C. burnetii </tspan>Δ<tspan font-style="italic">dotA</tspan></text>
<rect x="954.6" y="1344.2" width="5.6" height="4.3" fill="#000"/>
<text x="944.6" y="1356.2" font-size="29.2" text-anchor="end"><tspan font-style="italic">C. burnetii </tspan>Δ<tspan font-style="italic">dotB</tspan></text>
<rect x="954.6" y="1383.8" width="5.6" height="4.3" fill="#000"/>
<text x="944.6" y="1395.8" font-size="29.2" text-anchor="end"><tspan font-style="italic">C.burnetii</tspan> NMII</text>
<rect x="974.9" y="1405.5" width="4.4" height="5.6" fill="#000"/>
<text transform="translate(987.7 1414.3) rotate(-90) scale(0.958 1)" font-size="30.5" text-anchor="end">MAILR</text>
<rect x="1009.1" y="1405.5" width="4.4" height="5.6" fill="#000"/>
<text transform="translate(1021.9 1414.3) rotate(-90) scale(0.958 1)" font-size="30.5" text-anchor="end">LINC01215</text>
<rect x="1043.3" y="1405.5" width="4.4" height="5.6" fill="#000"/>
<text transform="translate(1056.1 1414.3) rotate(-90) scale(0.958 1)" font-size="30.5" text-anchor="end">PACER</text>
<rect x="1077.5" y="1405.5" width="4.4" height="5.6" fill="#000"/>
<text transform="translate(1090.3 1414.3) rotate(-90) scale(0.958 1)" font-size="30.5" text-anchor="end">MROCKI</text>
<rect x="1111.7" y="1405.5" width="4.4" height="5.6" fill="#000"/>
<text transform="translate(1124.5 1414.3) rotate(-90) scale(0.958 1)" font-size="30.5" text-anchor="end">MIR155HG</text>
<rect x="1145.9" y="1405.5" width="4.4" height="5.6" fill="#000"/>
<text transform="translate(1158.7 1414.3) rotate(-90) scale(0.958 1)" font-size="30.5" text-anchor="end">MIR222HG</text>
<rect x="1180.1" y="1405.5" width="4.4" height="5.6" fill="#000"/>
<text transform="translate(1192.9 1414.3) rotate(-90) scale(0.958 1)" font-size="30.5" text-anchor="end">EGOT</text>
<rect x="1214.3" y="1405.5" width="4.4" height="5.6" fill="#000"/>
<text transform="translate(1227.1 1414.3) rotate(-90) scale(0.958 1)" font-size="30.5" text-anchor="end">LUCAT1</text>
<rect x="1248.5" y="1405.5" width="4.4" height="5.6" fill="#000"/>
<text transform="translate(1261.3 1414.3) rotate(-90) scale(0.958 1)" font-size="30.5" text-anchor="end">PIRAT1</text>
<rect x="1282.7" y="1405.5" width="4.4" height="5.6" fill="#000"/>
<text transform="translate(1295.5 1414.3) rotate(-90) scale(0.958 1)" font-size="30.5" text-anchor="end">lnc-DKK2</text>
<rect x="1316.9" y="1405.5" width="4.4" height="5.6" fill="#000"/>
<text transform="translate(1329.7 1414.3) rotate(-90) scale(0.958 1)" font-size="30.5" text-anchor="end">CYP1B1-AS1</text>
<defs><linearGradient id="cb" x1="0" y1="0" x2="0" y2="1"><stop offset="0" stop-color="#FF0000"/><stop offset="0.8835" stop-color="#FFFFFF"/><stop offset="1" stop-color="#0000FF"/></linearGradient></defs>
<rect x="1345" y="811.3" width="29.7" height="387.2" fill="url(#cb)"/>
<rect x="1345.6" y="811.9" width="28.5" height="386" fill="none" stroke="#2a2a2a" stroke-width="1.0"/>
<rect x="1345" y="1178.8" width="6" height="1.3" fill="#111"/>
<rect x="1368.7" y="1178.8" width="6" height="1.3" fill="#111"/>
<text transform="translate(1385.7 1189.4) scale(0.955 1)" font-size="30.2">0.5</text>
<rect x="1345" y="1127.3" width="6" height="1.3" fill="#111"/>
<rect x="1368.7" y="1127.3" width="6" height="1.3" fill="#111"/>
<text transform="translate(1385.7 1137.9) scale(0.955 1)" font-size="30.2">1.5</text>
<rect x="1345" y="1075.8" width="6" height="1.3" fill="#111"/>
<rect x="1368.7" y="1075.8" width="6" height="1.3" fill="#111"/>
<text transform="translate(1385.7 1086.4) scale(0.955 1)" font-size="30.2">2.5</text>
<rect x="1345" y="1024.3" width="6" height="1.3" fill="#111"/>
<rect x="1368.7" y="1024.3" width="6" height="1.3" fill="#111"/>
<text transform="translate(1385.7 1034.9) scale(0.955 1)" font-size="30.2">3.5</text>
<rect x="1345" y="972.9" width="6" height="1.3" fill="#111"/>
<rect x="1368.7" y="972.9" width="6" height="1.3" fill="#111"/>
<text transform="translate(1385.7 983.4) scale(0.955 1)" font-size="30.2">4.5</text>
<rect x="1345" y="921.4" width="6" height="1.3" fill="#111"/>
<rect x="1368.7" y="921.4" width="6" height="1.3" fill="#111"/>
<text transform="translate(1385.7 931.9) scale(0.955 1)" font-size="30.2">5.5</text>
<rect x="1345" y="869.9" width="6" height="1.3" fill="#111"/>
<rect x="1368.7" y="869.9" width="6" height="1.3" fill="#111"/>
<text transform="translate(1385.7 880.4) scale(0.955 1)" font-size="30.2">6.5</text>
<rect x="1345" y="818.4" width="6" height="1.3" fill="#111"/>
<rect x="1368.7" y="818.4" width="6" height="1.3" fill="#111"/>
<text transform="translate(1385.7 828.9) scale(0.955 1)" font-size="30.2">7.5</text>
<text x="1347.9" y="1231.4" font-size="28.1">fold-change</text>
</g>
</svg>
</body>
</html>
